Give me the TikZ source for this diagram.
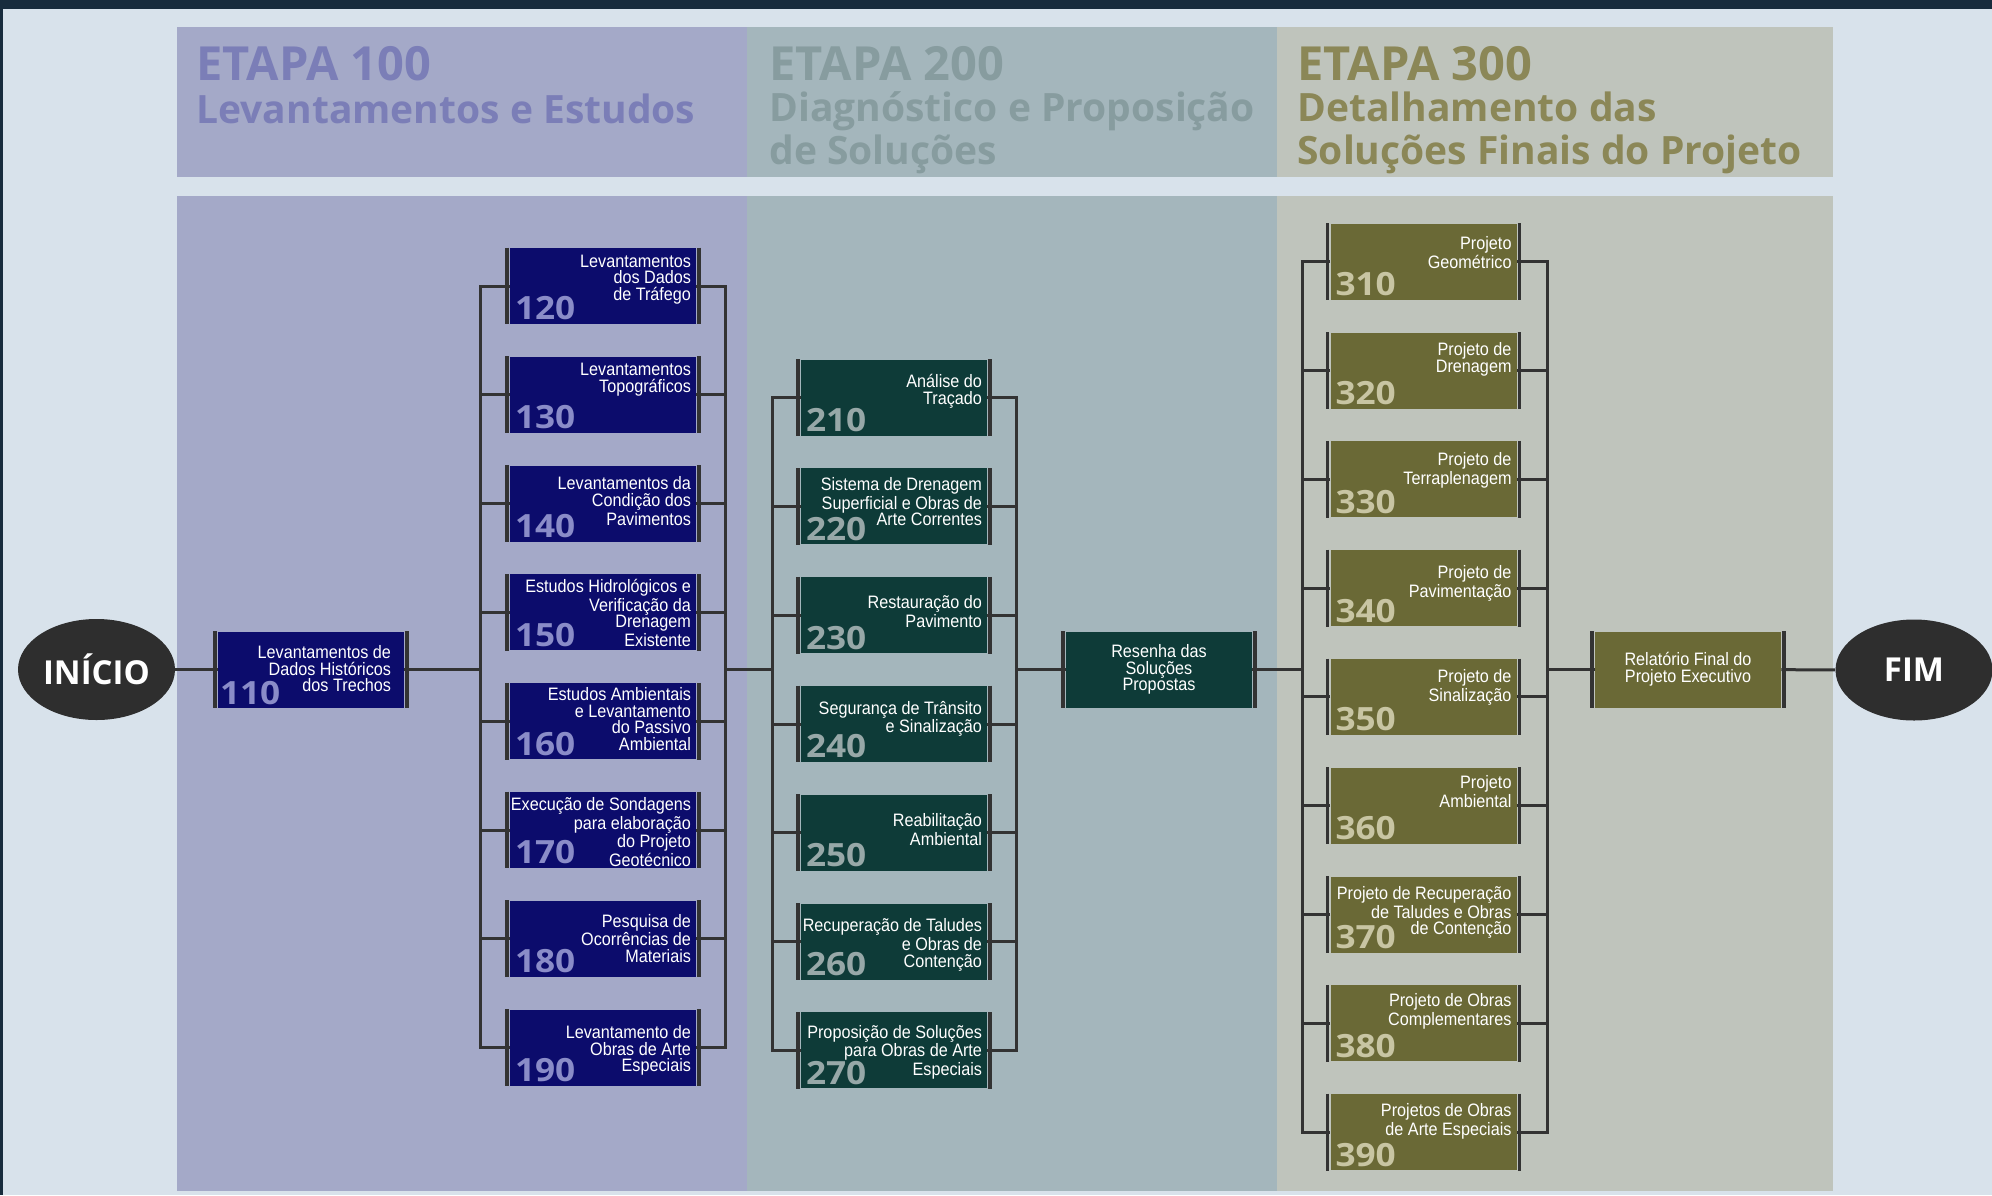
\documentclass[tikz,border=0pt]{standalone}
\usepackage{fontspec}
\setmainfont{Liberation Sans}
\newfontfamily\caixafont[FakeStretch=0.9]{Liberation Sans}
\newfontfamily\numfont[FakeStretch=1.1]{Open Sans}
\newfontfamily\titfont{Open Sans}
\usetikzlibrary{shapes.geometric}

\definecolor{fundo}{HTML}{D8E2EB}
\definecolor{topo}{HTML}{182C3D}
\definecolor{painel1}{HTML}{A4A9C8}
\definecolor{painel2}{HTML}{A4B6BC}
\definecolor{painel3}{HTML}{BFC4BC}
\definecolor{titulo1}{HTML}{7B7EB7}
\definecolor{titulo2}{HTML}{879C9F}
\definecolor{titulo3}{HTML}{8B8757}
\definecolor{caixa1}{HTML}{0C0C6C}
\definecolor{caixa2}{HTML}{0E3B38}
\definecolor{caixa3}{HTML}{6A6936}
\definecolor{num1}{HTML}{8A8CC8}
\definecolor{num2}{HTML}{97A8A8}
\definecolor{num3}{HTML}{C8C5A3}
\definecolor{traco}{HTML}{333333}
\definecolor{oval}{HTML}{2E2E2E}

\begin{document}
\begin{tikzpicture}[x=0.5pt, y=-0.5pt,
  linha/.style={draw=traco, line width=1.5pt},
  barra/.style={draw=traco, line width=1.65pt},
  tarefa/.style={rectangle, minimum width=93pt, minimum height=38pt, inner sep=0pt,
    append after command={([xshift=-1.25pt]\tikzlastnode.north west) edge[barra] ([xshift=-1.25pt]\tikzlastnode.south west)
      ([xshift=1.25pt]\tikzlastnode.north east) edge[barra] ([xshift=1.25pt]\tikzlastnode.south east)}},
  tarefa1/.style={tarefa, fill=caixa1},
  tarefa2/.style={tarefa, fill=caixa2},
  tarefa3/.style={tarefa, fill=caixa3},
  rotulo/.style={anchor=north east, align=right, inner sep=0pt, text=white,
    font=\caixafont\fontsize{9}{8.3}\selectfont, execute at begin node=\rule{0pt}{6.8pt}},
  numero/.style={anchor=base west, inner sep=0pt, font=\numfont\bfseries\fontsize{16}{16}\selectfont},
  etapa/.style={anchor=base west, inner sep=0pt, font=\titfont\bfseries\fontsize{23.5}{23.5}\selectfont},
  subtit/.style={anchor=north west, align=left, inner sep=0pt,
    font=\titfont\bfseries\fontsize{19.5}{21.6}\selectfont, execute at begin node=\rule{0pt}{16pt}},
  ponta/.style={ellipse, fill=oval, minimum width=78.5pt, minimum height=50.5pt, inner sep=0pt,
    text=white, font=\titfont\bfseries\fontsize{16.5}{16.5}\selectfont}]
\useasboundingbox (0,0) rectangle (1992,1195);

% fundo e faixas das etapas
\fill[fundo] (0,0) rectangle (1992,1195);
\fill[topo] (0,0) rectangle (1992,9);
\fill[topo] (0,0) rectangle (3,1195);
\fill[painel1] (177,27) rectangle (747,177);
\fill[painel2] (747,27) rectangle (1277,177);
\fill[painel3] (1277,27) rectangle (1833,177);
\fill[painel1] (177,196) rectangle (747,1191);
\fill[painel2] (747,196) rectangle (1277,1191);
\fill[painel3] (1277,196) rectangle (1833,1191);

% titulos
\node[etapa, text=titulo1] (e100) at (196,80){ETAPA 100};
\node[subtit, text=titulo1] (d100) at (196,91){Levantamentos e Estudos};
\node[etapa, text=titulo2] (e200) at (769,80){ETAPA 200};
\node[subtit, text=titulo2] (d200) at (769,91){Diagnóstico e Proposição\\de Soluções};
\node[etapa, text=titulo3] (e300) at (1297,80){ETAPA 300};
\node[subtit, text=titulo3] (d300) at (1297,91){Detalhamento das\\Soluções Finais do Projeto};

% inicio e fim
\node[ponta] (inicio) at (96.5,669.5){INÍCIO};
\node[ponta] (fim) at (1914,670){FIM};

% etapa 100
\node[tarefa1] (s110) at (311,669.5){};
\node[rotulo] (t110) at ([xshift=-6.5pt,yshift=-7.1pt]s110.north east){Levantamentos de\\Dados Históricos\\dos Trechos};
\node[numero, text=num1] (n110) at ([xshift=1pt,yshift=1.7pt]s110.south west){110};

\node[tarefa1] (s120) at (603,286){};
\node[rotulo] (t120) at ([xshift=-2.5pt,yshift=-3.5pt]s120.north east){Levantamentos\\dos Dados\\de Tráfego};
\node[numero, text=num1] (n120) at ([xshift=2.5pt,yshift=2.25pt]s120.south west){120};

\node[tarefa1] (s130) at (603,394.8){};
\node[rotulo] (t130) at ([xshift=-2.5pt,yshift=-3.3pt]s130.north east){Levantamentos\\Topográficos};
\node[numero, text=num1] (n130) at ([xshift=2.5pt,yshift=2.25pt]s130.south west){130};

\node[tarefa1] (s140) at (603,503.6){};
\node[rotulo] (t140) at ([xshift=-2.5pt,yshift=-5.6pt]s140.north east){Levantamentos da\\Condição dos\\Pavimentos};
\node[numero, text=num1] (n140) at ([xshift=2.5pt,yshift=2.25pt]s140.south west){140};

\node[tarefa1] (s150) at (603,612.4){};
\node[rotulo] (t150) at ([xshift=-2.5pt,yshift=-2.3pt]s150.north east){Estudos Hidrológicos e\\Verificação da\\Drenagem\\Existente};
\node[numero, text=num1] (n150) at ([xshift=2.5pt,yshift=2.25pt]s150.south west){150};

\node[tarefa1] (s160) at (603,721.2){};
\node[rotulo] (t160) at ([xshift=-2.5pt,yshift=-2.1pt]s160.north east){Estudos Ambientais\\e Levantamento\\do Passivo\\Ambiental};
\node[numero, text=num1] (n160) at ([xshift=2.5pt,yshift=2.25pt]s160.south west){160};

\node[tarefa1] (s170) at (603,830){};
\node[rotulo] (t170) at ([xshift=-2.5pt,yshift=-2.6pt]s170.north east){Execução de Sondagens\\para elaboração\\do Projeto\\Geotécnico};
\node[numero, text=num1] (n170) at ([xshift=2.5pt,yshift=2.25pt]s170.south west){170};

\node[tarefa1] (s180) at (603,938.8){};
\node[rotulo] (t180) at ([xshift=-2.5pt,yshift=-6.6pt]s180.north east){Pesquisa de\\Ocorrências de\\Materiais};
\node[numero, text=num1] (n180) at ([xshift=2.5pt,yshift=2.25pt]s180.south west){180};

\node[tarefa1] (s190) at (603,1047.6){};
\node[rotulo] (t190) at ([xshift=-2.5pt,yshift=-8pt]s190.north east){Levantamento de\\Obras de Arte\\Especiais};
\node[numero, text=num1] (n190) at ([xshift=2.5pt,yshift=2.25pt]s190.south west){190};

% etapa 200
\node[tarefa2] (s210) at (894,397.6){};
\node[rotulo] (t210) at ([xshift=-2.5pt,yshift=-7.5pt]s210.north east){Análise do\\Traçado};
\node[numero, text=num2] (n210) at ([xshift=2.5pt,yshift=2.25pt]s210.south west){210};

\node[tarefa2] (s220) at (894,506.4){};
\node[rotulo] (t220) at ([xshift=-2.5pt,yshift=-4.5pt]s220.north east){Sistema de Drenagem\\Superficial e Obras de\\Arte Correntes};
\node[numero, text=num2] (n220) at ([xshift=2.5pt,yshift=2.25pt]s220.south west){220};

\node[tarefa2] (s230) at (894,615.2){};
\node[rotulo] (t230) at ([xshift=-2.5pt,yshift=-9.1pt]s230.north east){Restauração do\\Pavimento};
\node[numero, text=num2] (n230) at ([xshift=2.5pt,yshift=2.25pt]s230.south west){230};

\node[tarefa2] (s240) at (894,724){};
\node[rotulo] (t240) at ([xshift=-2.5pt,yshift=-7.5pt]s240.north east){Segurança de Trânsito\\e Sinalização};
\node[numero, text=num2] (n240) at ([xshift=2.5pt,yshift=2.25pt]s240.south west){240};

\node[tarefa2] (s250) at (894,832.8){};
\node[rotulo] (t250) at ([xshift=-2.5pt,yshift=-9.3pt]s250.north east){Reabilitação\\Ambiental};
\node[numero, text=num2] (n250) at ([xshift=2.5pt,yshift=2.25pt]s250.south west){250};

\node[tarefa2] (s260) at (894,941.6){};
\node[rotulo] (t260) at ([xshift=-2.5pt,yshift=-7.6pt]s260.north east){Recuperação de Taludes\\e Obras de\\Contenção};
\node[numero, text=num2] (n260) at ([xshift=2.5pt,yshift=2.25pt]s260.south west){260};

\node[tarefa2] (s270) at (894,1050.4){};
\node[rotulo] (t270) at ([xshift=-2.5pt,yshift=-6.3pt]s270.north east){Proposição de Soluções\\para Obras de Arte\\Especiais};
\node[numero, text=num2] (n270) at ([xshift=2.5pt,yshift=2.25pt]s270.south west){270};

\node[tarefa2, text=white, align=center, font=\caixafont\fontsize{9}{8.3}\selectfont] (resenha) at (1159,669.5){Resenha das\\Soluções\\Propostas};

% etapa 300
\node[tarefa3] (s310) at (1423.5,261.7){};
\node[rotulo] (t310) at ([xshift=-2.5pt,yshift=-6.3pt]s310.north east){Projeto\\Geométrico};
\node[numero, text=num3] (n310) at ([xshift=2.5pt,yshift=2.25pt]s310.south west){310};

\node[tarefa3] (s320) at (1423.5,370.5){};
\node[rotulo] (t320) at ([xshift=-2.5pt,yshift=-5.1pt]s320.north east){Projeto de\\Drenagem};
\node[numero, text=num3] (n320) at ([xshift=2.5pt,yshift=2.25pt]s320.south west){320};

\node[tarefa3] (s330) at (1423.5,479.3){};
\node[rotulo] (t330) at ([xshift=-2.5pt,yshift=-5.5pt]s330.north east){Projeto de\\Terraplenagem};
\node[numero, text=num3] (n330) at ([xshift=2.5pt,yshift=2.25pt]s330.south west){330};

\node[tarefa3] (s340) at (1423.5,588.1){};
\node[rotulo] (t340) at ([xshift=-2.5pt,yshift=-7.6pt]s340.north east){Projeto de\\Pavimentação};
\node[numero, text=num3] (n340) at ([xshift=2.5pt,yshift=2.25pt]s340.south west){340};

\node[tarefa3] (s350) at (1423.5,696.9){};
\node[rotulo] (t350) at ([xshift=-2.5pt,yshift=-5.5pt]s350.north east){Projeto de\\Sinalização};
\node[numero, text=num3] (n350) at ([xshift=2.5pt,yshift=2.25pt]s350.south west){350};

\node[tarefa3] (s360) at (1423.5,805.7){};
\node[rotulo] (t360) at ([xshift=-2.5pt,yshift=-3.8pt]s360.north east){Projeto\\Ambiental};
\node[numero, text=num3] (n360) at ([xshift=2.5pt,yshift=2.25pt]s360.south west){360};

\node[tarefa3] (s370) at (1423.5,914.5){};
\node[rotulo] (t370) at ([xshift=-2.5pt,yshift=-4.8pt]s370.north east){Projeto de Recuperação\\de Taludes e Obras\\de Contenção};
\node[numero, text=num3] (n370) at ([xshift=2.5pt,yshift=2.25pt]s370.south west){370};

\node[tarefa3] (s380) at (1423.5,1023.3){};
\node[rotulo] (t380) at ([xshift=-2.5pt,yshift=-4.1pt]s380.north east){Projeto de Obras\\Complementares};
\node[numero, text=num3] (n380) at ([xshift=2.5pt,yshift=2.25pt]s380.south west){380};

\node[tarefa3] (s390) at (1423.5,1132.1){};
\node[rotulo] (t390) at ([xshift=-2.5pt,yshift=-4.6pt]s390.north east){Projetos de Obras\\de Arte Especiais};
\node[numero, text=num3] (n390) at ([xshift=2.5pt,yshift=2.25pt]s390.south west){390};

\node[tarefa3, text=white, align=center, font=\caixafont\fontsize{9}{8.3}\selectfont] (relatorio) at (1688,669.5){Relatório Final do\\Projeto Executivo};

% barramentos
\coordinate (b1l) at (480,669.5);
\coordinate (b1r) at (725,669.5);
\coordinate (b2l) at (772,669.5);
\coordinate (b2r) at (1016,669.5);
\coordinate (b3l) at (1302,669.5);
\coordinate (b3r) at (1547,669.5);

\draw[linha] (inicio) -- (s110);
\draw[linha] (s110) -- (b1l);
\draw[linha] (s120.west) -| (b1l) |- (s190.west);
\draw[linha] (s120.east) -| (b1r) |- (s190.east);
\foreach \s in {s130,s140,s150,s160,s170,s180}{
  \draw[linha] (\s.west) -- (\s.west -| b1l);
  \draw[linha] (\s.east) -- (\s.east -| b1r);
}
\draw[linha] (b1r) -- (b2l);
\draw[linha] (s210.west) -| (b2l) |- (s270.west);
\draw[linha] (s210.east) -| (b2r) |- (s270.east);
\foreach \s in {s220,s230,s240,s250,s260}{
  \draw[linha] (\s.west) -- (\s.west -| b2l);
  \draw[linha] (\s.east) -- (\s.east -| b2r);
}
\draw[linha] (b2r) -- (resenha);
\draw[linha] (resenha) -- (b3l);
\draw[linha] (s310.west) -| (b3l) |- (s390.west);
\draw[linha] (s310.east) -| (b3r) |- (s390.east);
\foreach \s in {s320,s330,s340,s350,s360,s370,s380}{
  \draw[linha] (\s.west) -- (\s.west -| b3l);
  \draw[linha] (\s.east) -- (\s.east -| b3r);
}
\draw[linha] (b3r) -- (relatorio);
\draw[linha] (relatorio) -- (fim);
\end{tikzpicture}
\end{document}
